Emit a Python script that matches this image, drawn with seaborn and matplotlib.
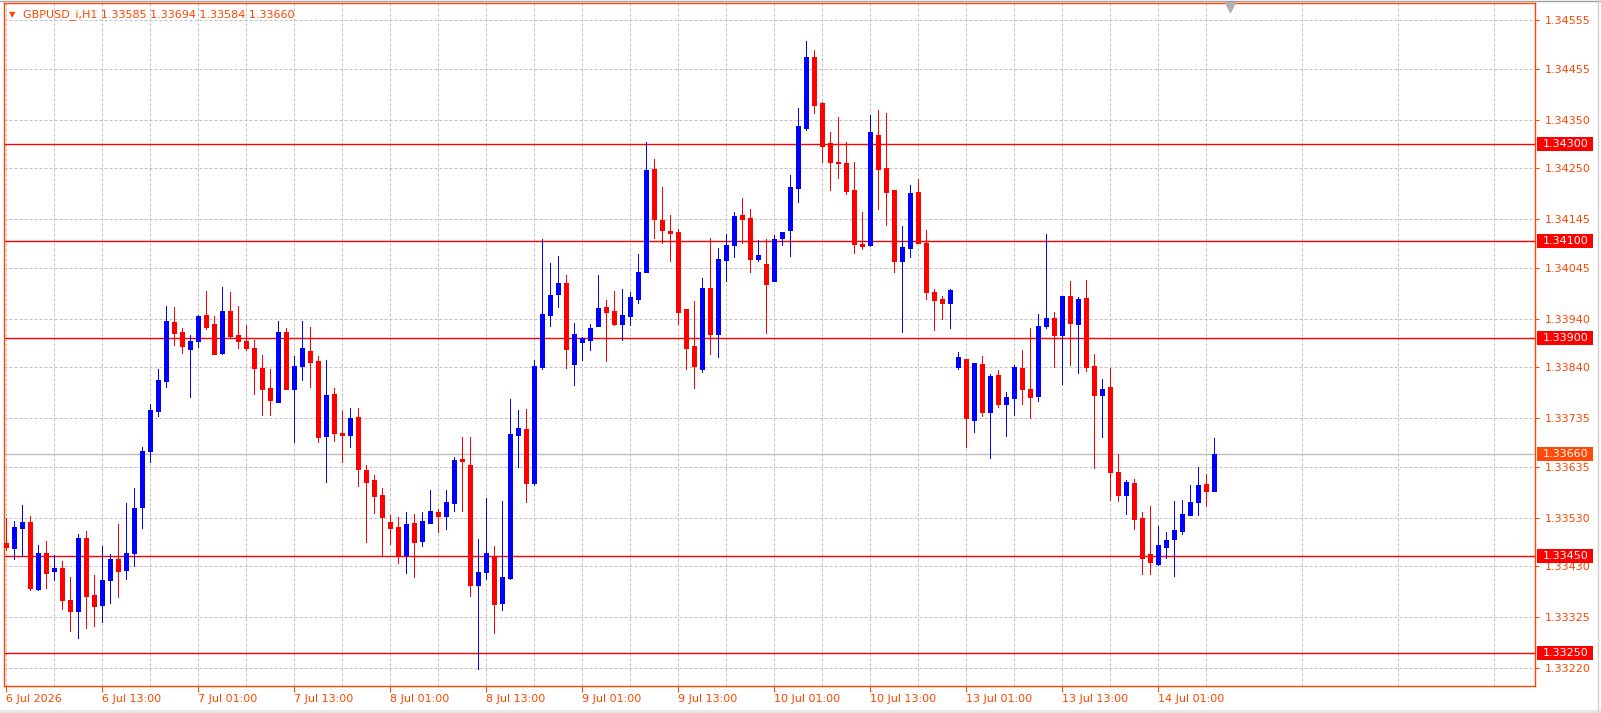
import numpy as np
import pandas as pd
import matplotlib
matplotlib.use("Agg")
import matplotlib.pyplot as plt
import matplotlib.transforms as mtransforms
from matplotlib.patches import Rectangle
from matplotlib.lines import Line2D
from matplotlib.ticker import FixedLocator, FixedFormatter
import seaborn as sns

# ---------------- data ----------------
symbol = "GBPUSD_i,H1"

opens = [
    1.33478, 1.33468, 1.33509, 1.33521, 1.33383, 1.33457, 1.33420, 1.33426, 1.33360, 1.33338,
    1.33488, 1.33370, 1.33350, 1.33402, 1.33444, 1.33422, 1.33456, 1.33552, 1.33668, 1.33750,
    1.33812, 1.33933, 1.33912, 1.33878, 1.33893, 1.33948, 1.33929, 1.33870, 1.33956, 1.33906,
    1.33894, 1.33880, 1.33838, 1.33797, 1.33769, 1.33912, 1.33794, 1.33843, 1.33873, 1.33853,
    1.33699, 1.33785, 1.33705, 1.33701, 1.33737, 1.33628, 1.33607, 1.33576, 1.33521, 1.33510,
    1.33453, 1.33519, 1.33482, 1.33519, 1.33541, 1.33533, 1.33559, 1.33651, 1.33639, 1.33391,
    1.33418, 1.33450, 1.33354, 1.33405, 1.33701, 1.33713, 1.33602, 1.33840, 1.33948, 1.33990,
    1.34014, 1.33847, 1.33891, 1.33897, 1.33924, 1.33964, 1.33956, 1.33928, 1.33946, 1.33981,
    1.34037, 1.34249, 1.34143, 1.34121, 1.34119, 1.33960, 1.33884, 1.33837, 1.34004, 1.33909,
    1.34060, 1.34091, 1.34154, 1.34148, 1.34064, 1.34053, 1.34018, 1.34107, 1.34122, 1.34210,
    1.34334, 1.34480, 1.34385, 1.34302, 1.34263, 1.34261, 1.34205, 1.34094, 1.34091, 1.34319,
    1.34251, 1.34205, 1.34058, 1.34086, 1.34201, 1.34097, 1.33995, 1.33981, 1.33973, 1.33841,
    1.33857, 1.33732, 1.33847, 1.33748, 1.33824, 1.33765, 1.33777, 1.33838, 1.33795, 1.33781,
    1.33924, 1.33941, 1.33907, 1.33987, 1.33928, 1.33983, 1.33842, 1.33783, 1.33799, 1.33624,
    1.33576, 1.33601, 1.33529, 1.33455, 1.33435, 1.33470, 1.33486, 1.33503, 1.33536, 1.33561,
    1.33599, 1.33585,
]
highs = [
    1.33530, 1.33523, 1.33556, 1.33533, 1.33473, 1.33482, 1.33453, 1.33440, 1.33407, 1.33496,
    1.33502, 1.33411, 1.33471, 1.33455, 1.33517, 1.33560, 1.33591, 1.33676, 1.33765, 1.33836,
    1.33966, 1.33964, 1.33921, 1.33906, 1.33948, 1.33997, 1.33945, 1.34005, 1.33995, 1.33966,
    1.33927, 1.33896, 1.33865, 1.33836, 1.33935, 1.33921, 1.33862, 1.33935, 1.33923, 1.33863,
    1.33855, 1.33798, 1.33750, 1.33756, 1.33756, 1.33638, 1.33618, 1.33591, 1.33535, 1.33531,
    1.33541, 1.33537, 1.33541, 1.33587, 1.33548, 1.33587, 1.33655, 1.33696, 1.33695, 1.33486,
    1.33570, 1.33471, 1.33564, 1.33774, 1.33752, 1.33754, 1.33855, 1.34105, 1.34055, 1.34069,
    1.34030, 1.33931, 1.33902, 1.33929, 1.34030, 1.33979, 1.33997, 1.34001, 1.33995, 1.34073,
    1.34304, 1.34269, 1.34212, 1.34154, 1.34125, 1.33960, 1.33977, 1.34024, 1.34106, 1.34086,
    1.34115, 1.34160, 1.34189, 1.34166, 1.34102, 1.34104, 1.34113, 1.34119, 1.34236, 1.34374,
    1.34513, 1.34494, 1.34387, 1.34325, 1.34356, 1.34304, 1.34263, 1.34160, 1.34360, 1.34370,
    1.34364, 1.34205, 1.34131, 1.34216, 1.34228, 1.34123, 1.34001, 1.33987, 1.34001, 1.33871,
    1.33857, 1.33849, 1.33863, 1.33825, 1.33834, 1.33789, 1.33844, 1.33876, 1.33921, 1.33950,
    1.34115, 1.33954, 1.33987, 1.34018, 1.33985, 1.34020, 1.33867, 1.33816, 1.33838, 1.33661,
    1.33607, 1.33609, 1.33541, 1.33554, 1.33513, 1.33500, 1.33565, 1.33566, 1.33598, 1.33635,
    1.33620, 1.33694,
]
lows = [
    1.33462, 1.33445, 1.33451, 1.33381, 1.33381, 1.33385, 1.33401, 1.33342, 1.33297, 1.33282,
    1.33303, 1.33307, 1.33315, 1.33354, 1.33367, 1.33404, 1.33429, 1.33509, 1.33645, 1.33740,
    1.33800, 1.33886, 1.33870, 1.33779, 1.33882, 1.33919, 1.33868, 1.33868, 1.33901, 1.33880,
    1.33876, 1.33785, 1.33742, 1.33742, 1.33769, 1.33794, 1.33686, 1.33814, 1.33800, 1.33686,
    1.33604, 1.33688, 1.33644, 1.33676, 1.33594, 1.33480, 1.33540, 1.33450, 1.33475, 1.33437,
    1.33416, 1.33408, 1.33472, 1.33519, 1.33501, 1.33507, 1.33544, 1.33544, 1.33369, 1.33218,
    1.33403, 1.33292, 1.33340, 1.33403, 1.33634, 1.33561, 1.33596, 1.33836, 1.33924, 1.33963,
    1.33839, 1.33804, 1.33855, 1.33876, 1.33924, 1.33853, 1.33927, 1.33895, 1.33926, 1.33973,
    1.34037, 1.34107, 1.34095, 1.34058, 1.33928, 1.33837, 1.33798, 1.33830, 1.33868, 1.33860,
    1.34018, 1.34068, 1.34095, 1.34037, 1.34058, 1.33911, 1.34018, 1.34091, 1.34070, 1.34181,
    1.34328, 1.34365, 1.34262, 1.34206, 1.34231, 1.34196, 1.34076, 1.34084, 1.34089, 1.34167,
    1.34134, 1.34037, 1.33912, 1.34068, 1.34097, 1.33981, 1.33917, 1.33940, 1.33921, 1.33837,
    1.33676, 1.33707, 1.33740, 1.33653, 1.33757, 1.33699, 1.33742, 1.33765, 1.33736, 1.33771,
    1.33921, 1.33841, 1.33806, 1.33845, 1.33827, 1.33833, 1.33633, 1.33696, 1.33567, 1.33565,
    1.33538, 1.33507, 1.33414, 1.33414, 1.33433, 1.33447, 1.33410, 1.33495, 1.33536, 1.33536,
    1.33554, 1.33584,
]
closes = [
    1.33469, 1.33510, 1.33521, 1.33385, 1.33457, 1.33416, 1.33426, 1.33359, 1.33338, 1.33488,
    1.33369, 1.33348, 1.33401, 1.33444, 1.33420, 1.33457, 1.33550, 1.33668, 1.33752, 1.33814,
    1.33935, 1.33911, 1.33884, 1.33894, 1.33945, 1.33923, 1.33868, 1.33956, 1.33904, 1.33893,
    1.33880, 1.33839, 1.33794, 1.33773, 1.33912, 1.33794, 1.33842, 1.33880, 1.33851, 1.33697,
    1.33783, 1.33705, 1.33701, 1.33735, 1.33629, 1.33604, 1.33575, 1.33532, 1.33509, 1.33450,
    1.33517, 1.33480, 1.33523, 1.33543, 1.33534, 1.33562, 1.33649, 1.33647, 1.33391, 1.33418,
    1.33457, 1.33352, 1.33407, 1.33702, 1.33715, 1.33602, 1.33842, 1.33950, 1.33989, 1.34014,
    1.33878, 1.33908, 1.33900, 1.33921, 1.33962, 1.33954, 1.33929, 1.33948, 1.33985, 1.34036,
    1.34247, 1.34146, 1.34122, 1.34117, 1.33954, 1.33880, 1.33843, 1.34003, 1.33909, 1.34062,
    1.34092, 1.34152, 1.34146, 1.34064, 1.34071, 1.34012, 1.34104, 1.34119, 1.34212, 1.34337,
    1.34480, 1.34381, 1.34295, 1.34264, 1.34260, 1.34204, 1.34093, 1.34089, 1.34325, 1.34249,
    1.34202, 1.34058, 1.34088, 1.34199, 1.34097, 1.33994, 1.33979, 1.33973, 1.33999, 1.33861,
    1.33736, 1.33849, 1.33748, 1.33822, 1.33763, 1.33779, 1.33840, 1.33794, 1.33779, 1.33925,
    1.33941, 1.33907, 1.33987, 1.33930, 1.33981, 1.33841, 1.33783, 1.33795, 1.33623, 1.33576,
    1.33603, 1.33526, 1.33446, 1.33439, 1.33473, 1.33484, 1.33504, 1.33537, 1.33562, 1.33596,
    1.33585, 1.33660,
]

level_lines = [1.34300, 1.34100, 1.33900, 1.33450, 1.33250]
bid_price = 1.33660
price_ticks = [1.34555, 1.34455, 1.34350, 1.34250, 1.34145, 1.34045, 1.33940,
               1.33840, 1.33735, 1.33635, 1.33530, 1.33430, 1.33325, 1.33220]
time_tick_bars = [0, 12, 24, 36, 48, 60, 72, 84, 96, 108, 120, 132, 144]
time_tick_labels = ["6 Jul 2026", "6 Jul 13:00", "7 Jul 01:00", "7 Jul 13:00",
                    "8 Jul 01:00", "8 Jul 13:00", "9 Jul 01:00", "9 Jul 13:00",
                    "10 Jul 01:00", "10 Jul 13:00", "13 Jul 01:00", "13 Jul 13:00",
                    "14 Jul 01:00"]

# ---------------- style ----------------
sns.set_theme(style="white")
plt.rcParams["font.family"] = ["DejaVu Sans"]

OR = "#FF4500"
UP = "#0000FF"
DN = "#FF0000"
GRID = "#C0C0C0"
PX = 0.72  # one pixel in points at dpi 100

df = pd.DataFrame({"open": opens, "high": highs, "low": lows, "close": closes})
df["bar"] = np.arange(len(df))
df["color"] = np.where(df["close"] >= df["open"], UP, DN)
df["body_lo"] = df[["open", "close"]].min(axis=1)
df["body_hi"] = np.maximum(df[["open", "close"]].max(axis=1), df["body_lo"] + 0.000021)

W, H = 1601, 713
fig = plt.figure(figsize=(W / 100, H / 100), dpi=100)
fig.patch.set_facecolor("white")
ax = fig.add_axes([4.3 / W, 1 - 686 / H, (1535.3 - 4.3) / W, (686 - 3) / H])
ax.set_facecolor("white")

ax.set_xlim(-0.15, 191.175)
ax.set_ylim(1.331826, 1.345908)
ax.xaxis.set_major_locator(FixedLocator(time_tick_bars))
ax.xaxis.set_major_formatter(FixedFormatter(time_tick_labels))
minor_bars = [b + 6 for b in range(0, 192, 12) if b + 6 < 191]
ax.xaxis.set_minor_locator(FixedLocator(minor_bars))
ax.yaxis.set_major_locator(FixedLocator(price_ticks))
ax.yaxis.set_major_formatter(FixedFormatter([f"{p:.5f}" for p in price_ticks]))
ax.grid(True, which="both", axis="both", color=GRID, linestyle=(0, (3, 2)),
        linewidth=PX, zorder=0)
ax.set_axisbelow(True)

# level lines
for lvl in level_lines:
    ax.axhline(lvl, color="#FF0000", linewidth=1.0, zorder=1)
ax.axhline(bid_price, color="#BDBDBD", linewidth=1.0, zorder=1)

# candles: wick then body
ax.vlines(df["bar"], df["low"], df["high"], colors=df["color"], linewidth=PX,
          antialiased=False, capstyle="butt", zorder=2)
ax.vlines(df["bar"], df["body_lo"], df["body_hi"], colors=df["color"],
          linewidth=5 * PX, antialiased=False, capstyle="butt", zorder=3)

# spines / ticks
for s in ax.spines.values():
    s.set_color(OR)
    s.set_linewidth(1.0)
    s.set_visible(True)
ax.yaxis.tick_right()
ax.tick_params(axis="y", which="major", right=True, left=False, labelright=True,
               labelleft=False, length=3, width=PX, color=OR, labelcolor=OR,
               labelsize=8, pad=4)
ax.tick_params(axis="x", which="major", bottom=True, length=4, width=PX, color=OR,
               labelcolor=OR, labelsize=8, pad=2)
ax.tick_params(axis="both", which="minor", length=0)
for lbl in ax.get_xticklabels():
    lbl.set_horizontalalignment("left")

# right-side price boxes
trans = mtransforms.blended_transform_factory(fig.transFigure, ax.transData)
hh = 7 / 48500.0
for lvl, fc in [(l, "#FF0000") for l in level_lines] + [(bid_price, "#FF4A0A")]:
    ax.add_patch(Rectangle((1537 / W, lvl - hh), 56 / W, 2 * hh, transform=trans,
                           facecolor=fc, edgecolor="none", clip_on=False, zorder=5))
    ax.text(1543 / W, lvl, f"{lvl:.5f}", transform=trans, color="white",
            fontsize=8, va="center", ha="left", zorder=6, clip_on=False)

# chart shift marker
tmark = mtransforms.blended_transform_factory(ax.transData, ax.transAxes)
ax.plot([153], [1 - 4 / 683], marker="v", markersize=6.5, color="#B0B0B0",
        transform=tmark, clip_on=False, zorder=4, linestyle="none")

# title
title = f"{symbol} {opens[-1]:.5f} {highs[-1]:.5f} {lows[-1]:.5f} {closes[-1]:.5f}"
fig.text(9 / W, 1 - 14.5 / H, "\u25BC", color=OR, fontsize=6, va="center", ha="left")
fig.text(23 / W, 1 - 14.5 / H, title, color=OR, fontsize=8, va="center", ha="left")

# window borders
fig.add_artist(Line2D([0, 1], [1 - 0.5 / H, 1 - 0.5 / H], color="#A0A0A0",
                      linewidth=1.0, transform=fig.transFigure))
fig.add_artist(Rectangle((0, 0), 1, 3 / H, transform=fig.transFigure,
                         facecolor="#E6E6E6", edgecolor="none"))
fig.add_artist(Line2D([1 - 3.5 / W, 1 - 3.5 / W], [0, 1], color="#D0D0D0",
                      linewidth=1.0, transform=fig.transFigure))

fig.savefig("out.png", dpi=100)
